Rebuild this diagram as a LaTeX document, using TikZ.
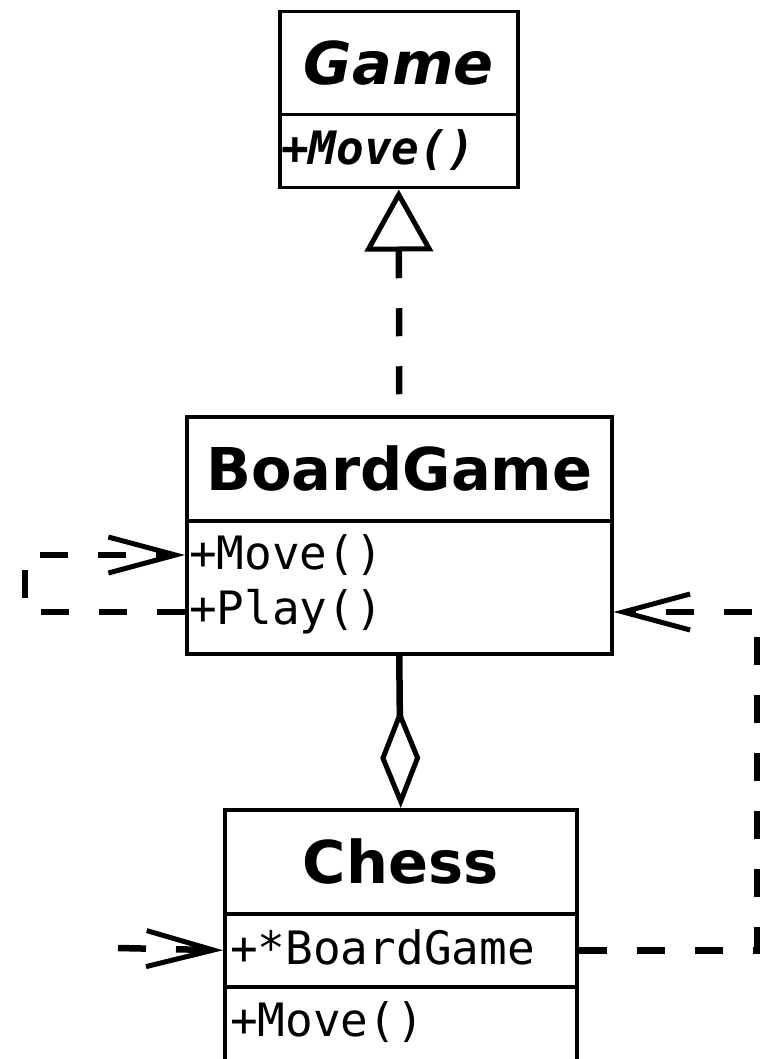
\documentclass[tikz,border=0pt]{standalone}
\usepackage{fontspec}
\newfontfamily\umlsans{DejaVu Sans}[BoldFont={DejaVu Sans Bold},BoldItalicFont={DejaVu Sans Bold Oblique}]
\newfontfamily\umlmono{DejaVu Sans Mono}[BoldFont={DejaVu Sans Mono Bold},BoldItalicFont={DejaVu Sans Mono Bold Oblique}]
\usetikzlibrary{arrows.meta}

\begin{document}
\begin{tikzpicture}[x=1pt,y=-1pt,
  compartment/.style={draw, line width=3.5pt, anchor=north west, inner sep=0pt},
  classname/.style={font=\umlsans\bfseries\fontsize{59}{63}\selectfont},
  member/.style={font=\umlmono\fontsize{46}{50}\selectfont, anchor=west, inner sep=0pt},
  conn/.style={line width=6.5pt},
  dashes/.style={dash pattern=on 28pt off 30pt},
  depend/.style={conn, dashes,
    -{Straight Barb[length=67pt,width=36pt,line width=5pt]}},
  realize/.style={conn, dashes,
    {Triangle[open,length=62pt,width=68pt,line width=5pt]}-},
  aggregate/.style={conn,
    -{Diamond[open,length=100pt,width=40pt,line width=5pt]}}
]
\clip (0,0) rectangle (768,1059);
\fill[white] (0,0) rectangle (768,1059);

% Game (abstract)
\node[compartment, classname, minimum width=238pt, minimum height=103pt] (gameT) at (278,10) {\itshape Game};
\node[compartment, minimum width=238pt, minimum height=73pt] (gameO) at (278,113) {};
\node[member] (gameMove) at (281,150) {\bfseries\itshape +Move()};

% BoardGame
\node[compartment, classname, minimum width=425pt, minimum height=104pt] (bgT) at (185,415) {BoardGame};
\node[compartment, minimum width=425pt, minimum height=133pt] (bgO) at (185,519) {};
\node[member] (bgMove) at (189,555) {+Move()};
\node[member] (bgPlay) at (189,612) {+Play()};

% Chess
\node[compartment, classname, minimum width=352pt, minimum height=104pt] (chessT) at (223,808) {Chess};
\node[compartment, minimum width=352pt, minimum height=73pt] (chessA) at (223,912) {};
\node[compartment, minimum width=352pt, minimum height=110pt] (chessO) at (223,985) {};
\node[member] (chessAttr) at (230,947) {+*BoardGame};
\node[member] (chessMove) at (230,1022) {+Move()};

% helper points for the connectors
\coordinate (bgPlayL) at (bgO.west |- bgPlay);
\coordinate (bgMoveL) at (bgO.west |- bgMove);
\coordinate (bgPlayR) at (bgO.east |- bgPlay);
\coordinate (loop) at (25,0);
\coordinate (rail) at (757,0);
\coordinate (inStart) at (118,948);

% realization
\draw[realize] (gameO.south) -- (bgT.north);
% aggregation
\draw[aggregate] (bgO.south) -- (chessT.north);
% self dependency
\draw[depend] (bgPlayL) -- (loop |- bgPlayL) -- (loop |- bgMoveL) -- (bgMoveL);
% dependency from Chess back to BoardGame
\draw[depend] (chessA.east) -- (chessA.east -| rail) -- (rail |- bgPlayR) -- (bgPlayR);
% incoming dependency
\draw[depend] (inStart) -- (chessA.west);
\end{tikzpicture}
\end{document}
